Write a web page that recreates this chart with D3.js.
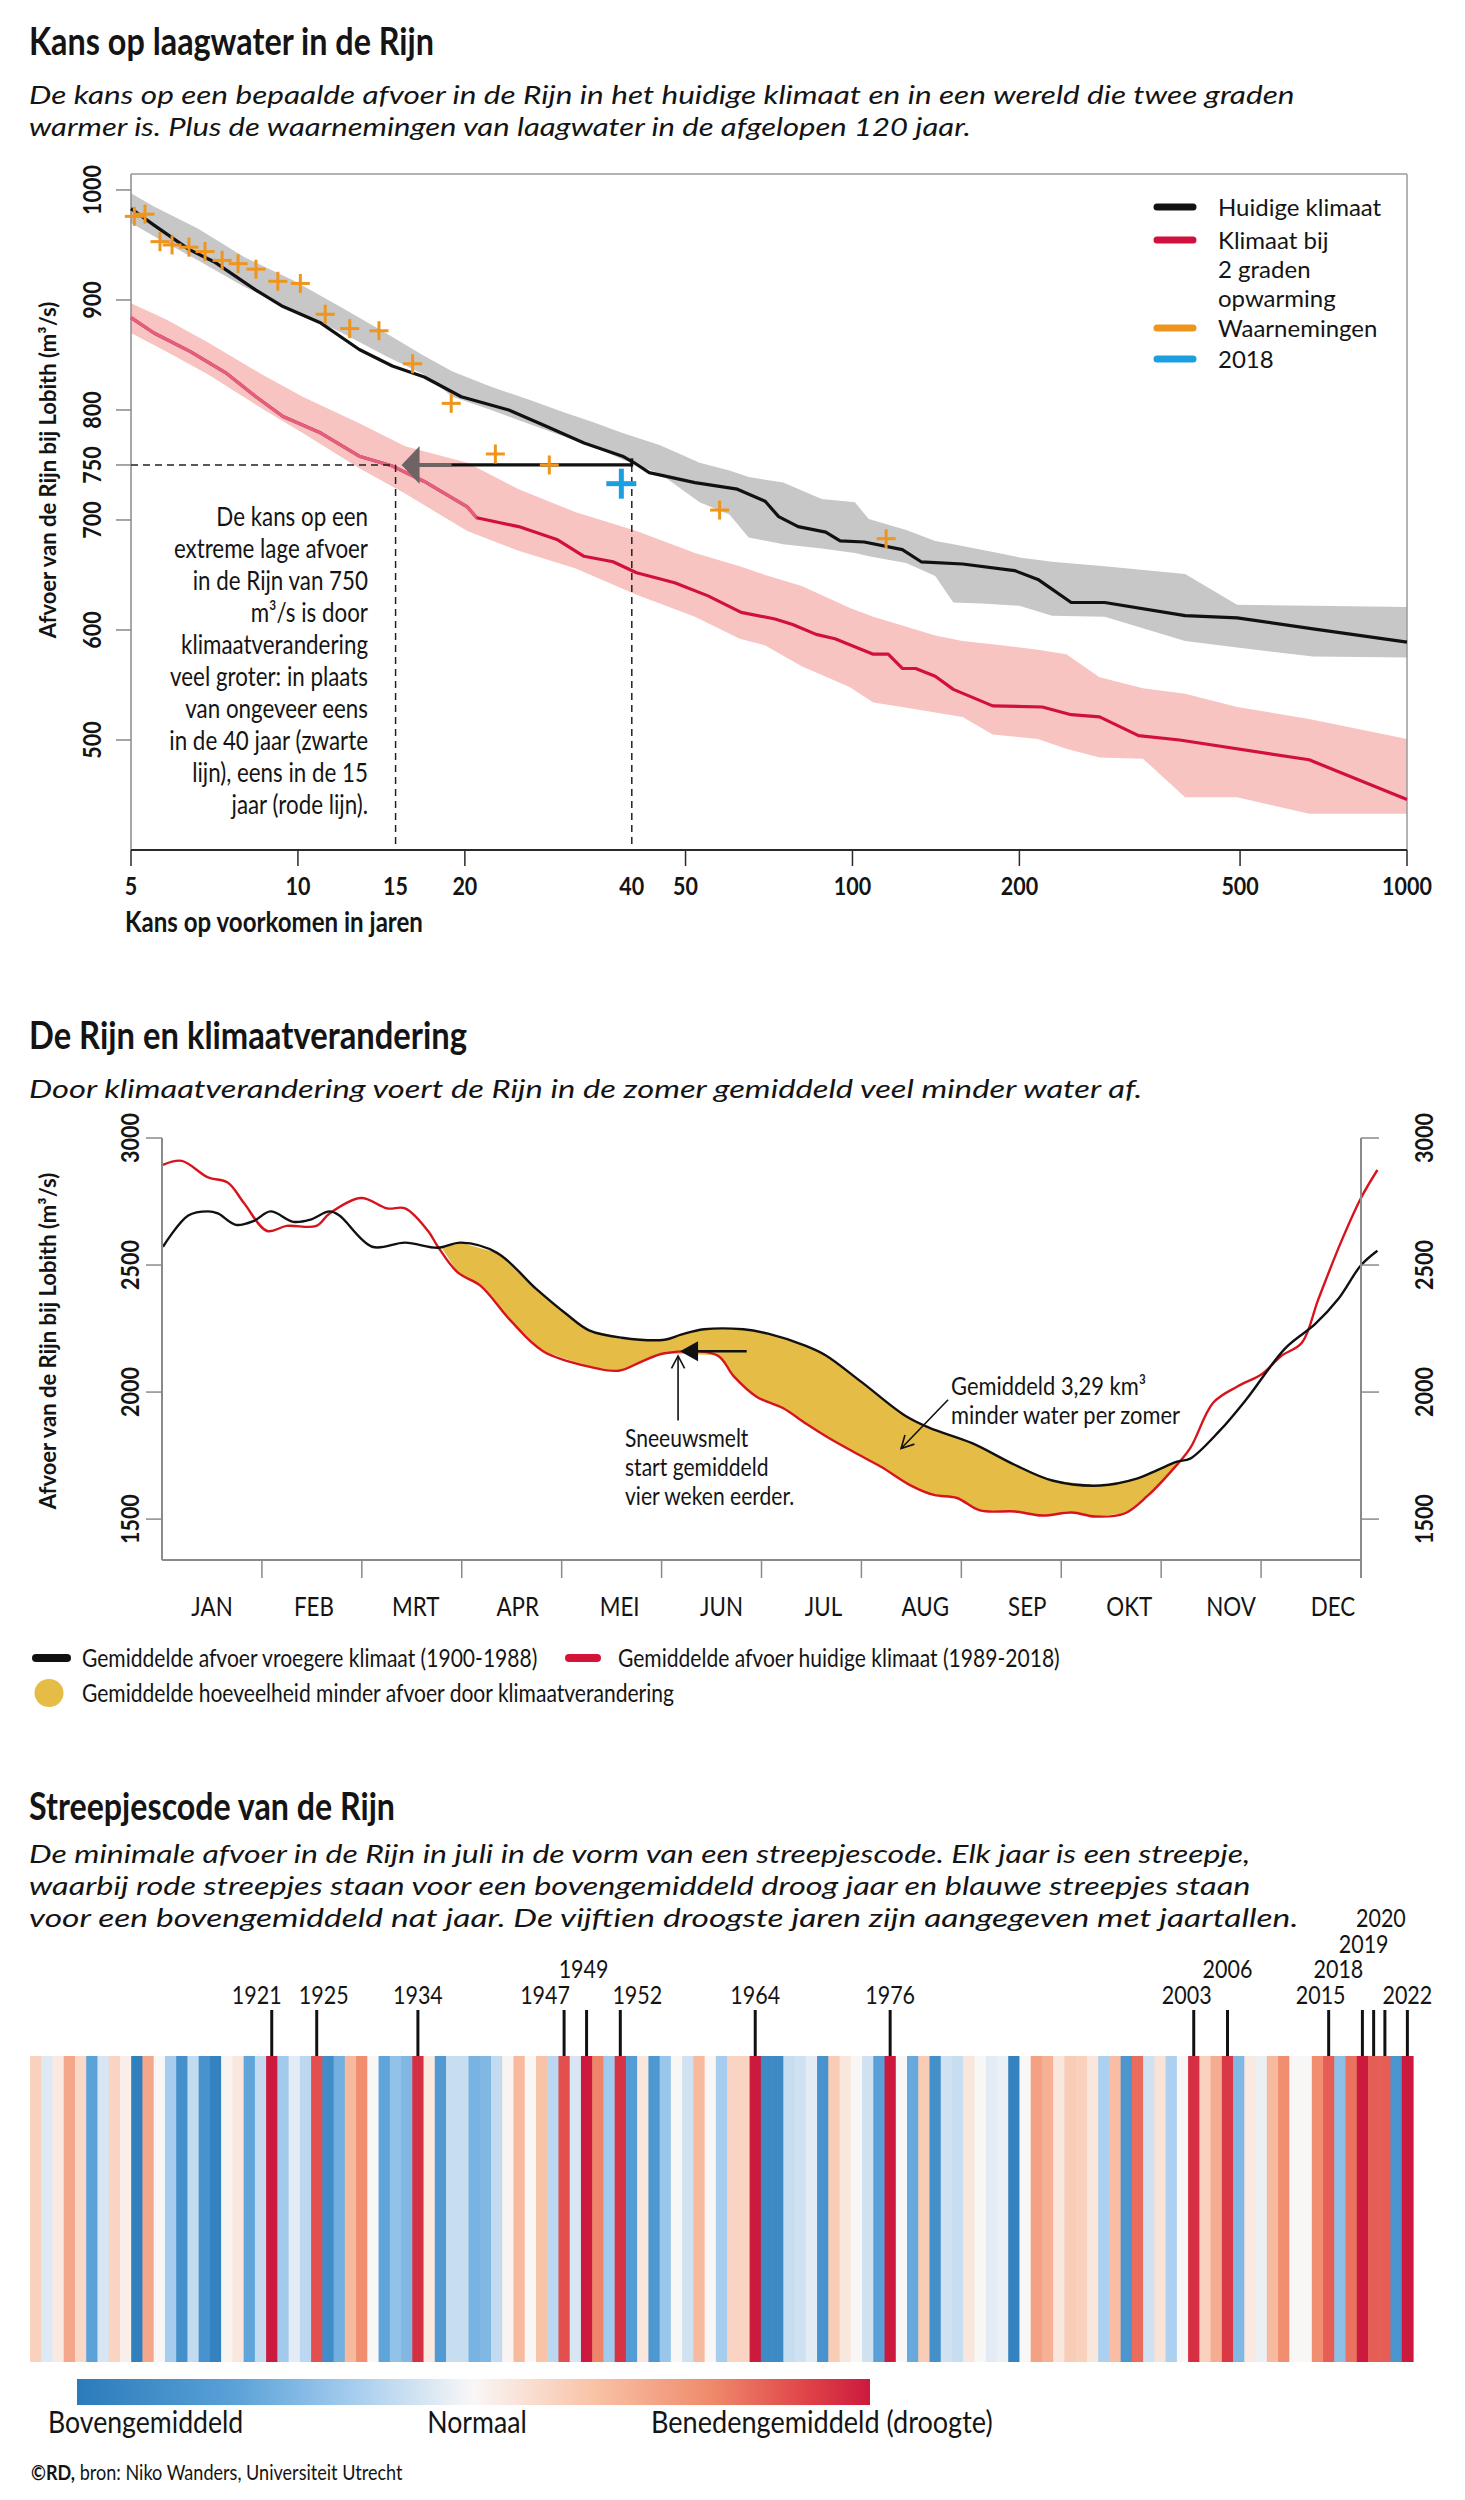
<!DOCTYPE html>
<html lang="nl"><head><meta charset="utf-8">
<script src="https://cdn.jsdelivr.net/npm/d3@7/dist/d3.min.js"></script>
<style>html,body{margin:0;padding:0;background:#fff}svg{display:block}</style>
</head><body>
<svg id="chart" width="1465" height="2500" xmlns="http://www.w3.org/2000/svg"></svg>
<script>
// ================= DATA =================
// --- Chart 1: Kans op laagwater (return period in years vs discharge m3/s)
const returnTickLabels = [5, 10, 15, 20, 40, 50, 100, 200, 500, 1000];
const returnTickMarks  = [5, 10, 20, 50, 100, 200, 500, 1000];
const dischargeTicks   = [500, 600, 700, 750, 800, 900, 1000];

const currentT = [5.0,5.5,6.36,7.1,8.4,9.4,11.0,12.9,14.8,16.9,19.7,24.0,28.1,32.8,38.5,40.4,43,52,62,69.6,73.6,79.8,89.5,95,105,123,133,158,196,216,248,285,398,494,677,1000];
const currentQ = [983,968,946,934,909,894,879,855,840,830,812,800,785,770,758,752,743,734,728,717,703,694,689,681,680,673,662,660,654,646,625,625,613,611,601,589];

const grayBandT  = [5,5.5,6.6,8,9.8,11.9,14.4,16.9,19,22.3,26.2,30.5,34,38.5,45,53,60,65,75,88,101,107,125,141,152,171,200,229,285,398,494,677,1000];
const grayBandHi = [997,985,965,939,918,894,870,849,835,821,809,797,789,779,768,752,745,739,734,719,716,701,691,681,678,673,666,662,658,651,623,622,621];
const grayBandLo = [970,958,936,912,891,871,849,832,812,800,787,775,767,755,742,716,705,684,678,674,670,667,661,649,625,624,622,613,612,590,584,576,575];

const warmT = [5.0,5.5,6.4,7.4,8.4,9.4,11.0,12.9,14.8,16.9,20.2,21.0,25,29.4,32.8,37,40.8,47.8,54.9,63,72.5,78,86,93,109,116,123,130,141,152,179,220,248,279,328,389,666,1000];
const warmQ = [884,870,853,834,812,794,779,758,749,735,712,702,694,682,667,662,652,643,631,616,610,605,596,592,578,578,565,565,558,546,531,530,523,521,504,500,482,446];

const pinkBandT  = [5,5.8,6.9,8.7,10.2,12.9,15.6,20.2,25,31.7,40.8,52,62.6,69.6,81,99,109,123,141,158,179,216,243,279,334,398,494,666,1000];
const pinkBandHi = [897,882,861,831,812,788,767,752,728,707,690,670,658,650,640,620,612,604,595,590,587,582,578,557,547,542,530,519,501];
const pinkBandLo = [870,853,832,800,779,747,724,690,672,656,632,612,592,586,567,548,534,530,525,521,505,501,492,484,483,448,448,433,433];

const obsT = [5.07,5.3,5.64,5.93,6.36,6.8,7.3,7.8,8.4,9.2,10.1,11.2,12.4,14.0,16.1,18.9,22.7,28.4,57.6,115];
const obsQ = [976,978,953,950,948,944,936,933,928,917,915,887,874,872,842,806,760,750,709,683];
const obs2018T = [38.3];
const obs2018Q = [733];

const legend1Labels = [["Huidige klimaat"], ["Klimaat bij", "2 graden", "opwarming"], ["Waarnemingen"], ["2018"]];
const annotation1 = ["De kans op een","extreme lage afvoer","in de Rijn van 750","m³/s is door","klimaatverandering","veel groter: in plaats","van ongeveer eens","in de 40 jaar (zwarte","lijn), eens in de 15","jaar (rode lijn)."];

// --- Chart 2: De Rijn en klimaatverandering (day of year vs discharge)
const months = ["JAN","FEB","MRT","APR","MEI","JUN","JUL","AUG","SEP","OKT","NOV","DEC"];
const flowTicks = [1500, 2000, 2500, 3000];
const earlyDay = [0.3,8,14,17,22.5,28,33,40,45,51,54,64,74,84,91,102,114,123,130,140,153,158,165,177,184.5,196,202,213,226,233.5,246.6,259.7,271,285.6,297,303,309,313,322,330,342,351,358,365,370];
const earlyQ   = [2572,2695,2711,2703,2658,2674,2711,2670,2678,2711,2695,2572,2588,2568,2588,2548,2405,2308,2243,2214,2206,2226,2247,2247,2230,2182,2145,2039,1909,1860,1799,1713,1652,1632,1660,1693,1726,1738,1848,1970,2173,2267,2365,2499,2556];
const recentDay = [0.3,6,14,20,25,32,38,47,51,60.6,68.5,74,81,84,90,97,106,116,130,139,146,153,169,174,181,189,196,203,212,219,228,235,242,249,259.7,268,277,284,293,300,307,313,320,327.5,335,340.6,347,352,359,365,370];
const recentQ   = [2894,2910,2845,2825,2743,2634,2654,2654,2703,2764,2723,2723,2634,2572,2471,2418,2283,2161,2100,2084,2120,2153,2145,2063,1982,1937,1876,1819,1754,1705,1632,1595,1583,1534,1530,1514,1526,1510,1522,1591,1685,1779,1958,2023,2072,2141,2194,2365,2593,2764,2874];
const deficitDays = [85, 310];

// --- Chart 3: Streepjescode (July minimum discharge anomaly; + = drier)
const firstYear = 1900, lastYear = 2022;
const julyMinAnomaly = [
  0.22,-0.1,0.08,0.45,0.18,-0.6,-0.12,0.2,0.05,-0.95,
  0.45,0,-0.3,-0.78,-0.2,-0.75,-0.92,0.02,0.1,-0.58,
  -0.2,1,-0.32,-0.08,-0.22,0.8,-0.82,-0.5,0.35,0.58,
  0,-0.58,-0.38,-0.45,0.92,0.08,-0.68,-0.18,-0.18,-0.48,
  -0.45,-0.2,0.02,0.35,0,0.3,-0.22,0.8,-0.12,1,
  0.62,-0.32,0.9,-0.65,0.1,-0.7,-0.35,0,-0.15,0.35,
  0,-0.3,0.2,0.2,1,-0.85,-0.85,-0.18,-0.15,-0.08,
  -0.75,0.25,0.1,0,-0.15,-0.62,1,0,-0.55,0.25,
  -0.78,-0.15,-0.18,0.1,0,-0.08,-0.05,-0.92,0,0.48,
  0.4,0.1,0.25,0.22,0.1,-0.28,0.33,-0.72,0.7,-0.15,
  0.12,-0.28,0,0.92,0.22,0.42,0.88,-0.45,0.08,-0.05,
  0.35,0.58,0,0,0.58,0.75,-0.4,0.68,1,0.75,
  0.75,-0.72,1];
const dryYears = [1921,1925,1934,1947,1949,1952,1964,1976,2003,2006,2015,2018,2019,2020,2022];
const scaleLabels = ["Bovengemiddeld", "Normaal", "Benedengemiddeld (droogte)"];

// ================= LAYOUT / STYLE =================
const svg = d3.select('#chart');
const defs = svg.append('defs');
function textWidth(family, str) {
  const t = svg.append('text').attr('font-family', family).attr('font-size', 100).text(str);
  const w = t.node().getComputedTextLength(); t.remove(); return w;
}
const probe = 'Huidige klimaat 1921';
const hasNarrow = Math.abs(textWidth("'Liberation Sans Narrow', monospace", probe) - textWidth('monospace', probe)) > 2;
const CF = hasNarrow ? "'Liberation Sans Narrow', 'Liberation Sans', sans-serif" : "Lato, sans-serif";
const SX = hasNarrow ? 1 : 0.86;
const NF = "Lato, 'Noto Sans', sans-serif";
const IF = "Lato, 'Noto Sans', sans-serif";

function T(g, x, y, str, o = {}) {
  const cond = o.cond !== false;
  let sx = o.sx !== undefined ? o.sx : (cond ? SX : 1);
  const base = `translate(${x},${y})` + (o.rotate ? ` rotate(${o.rotate})` : '');
  const t = g.append('text').attr('transform', base + (sx !== 1 ? ` scale(${sx},1)` : ''))
    .attr('font-family', o.family || (cond ? CF : NF))
    .attr('font-size', o.size || 24)
    .attr('font-weight', o.weight || 400)
    .attr('text-anchor', o.anchor || 'start')
    .attr('fill', o.fill || '#141414');
  if (o.italic) t.attr('font-style', 'italic');
  if (o.dy) t.attr('dy', o.dy);
  if (str !== null) t.text(str);
  if (o.fit) {
    const w = t.node().getComputedTextLength() * sx;
    let fs = (o.size || 24) * o.fit / w;
    if (o.maxSize && fs > o.maxSize) {
      t.attr('font-size', o.maxSize);
      sx = o.fit / t.node().getComputedTextLength();
      t.attr('transform', base + ` scale(${sx},1)`);
    } else {
      t.attr('font-size', fs);
    }
  }
  return t;
}
function line(g, x1, y1, x2, y2, stroke, w, dash) {
  const l = g.append('line').attr('x1', x1).attr('y1', y1).attr('x2', x2).attr('y2', y2)
    .attr('stroke', stroke).attr('stroke-width', w);
  if (dash) l.attr('stroke-dasharray', dash);
  return l;
}

// ---------- Titles ----------
const gt = svg.append('g');
const sub = {cond: false, family: IF, italic: true, size: 26, maxSize: 26};
T(gt, 29, 55, "Kans op laagwater in de Rijn", {size: 33, weight: 700, fit: 405});
T(gt, 29, 104, "De kans op een bepaalde afvoer in de Rijn in het huidige klimaat en in een wereld die twee graden", {...sub, fit: 1266});
T(gt, 29, 136, "warmer is. Plus de waarnemingen van laagwater in de afgelopen 120 jaar.", {...sub, fit: 942});
T(gt, 29, 1049, "De Rijn en klimaatverandering", {size: 33, weight: 700, fit: 438});
T(gt, 29, 1098, "Door klimaatverandering voert de Rijn in de zomer gemiddeld veel minder water af.", {...sub, fit: 1114});
T(gt, 29, 1820, "Streepjescode van de Rijn", {size: 33, weight: 700, fit: 366});
T(gt, 29, 1863, "De minimale afvoer in de Rijn in juli in de vorm van een streepjescode. Elk jaar is een streepje,", {...sub, fit: 1222});
T(gt, 29, 1895, "waarbij rode streepjes staan voor een bovengemiddeld droog jaar en blauwe streepjes staan", {...sub, fit: 1222});
T(gt, 29, 1927, "voor een bovengemiddeld nat jaar. De vijftien droogste jaren zijn aangegeven met jaartallen.", {...sub, fit: 1270});

// ================= CHART 1 =================
const g1 = svg.append('g');
const x1 = d3.scaleLog().domain([5, 1000]).range([131, 1407]);
const y1 = d3.scaleLinear().domain([400, 1014.5]).range([850, 174]);
const zip3 = (a, b, c) => a.map((v, i) => [v, b[i], c[i]]);
const zip2 = (a, b) => a.map((v, i) => [v, b[i]]);
const band1 = d3.area().x(d => x1(d[0])).y0(d => y1(d[2])).y1(d => y1(d[1]));
const line1 = d3.line().x(d => x1(d[0])).y(d => y1(d[1]));

g1.append('path').attr('d', band1(zip3(pinkBandT, pinkBandHi, pinkBandLo))).attr('fill', '#f7c4c2');
g1.append('path').attr('d', band1(zip3(grayBandT, grayBandHi, grayBandLo))).attr('fill', '#c7c7c7');

const [xa, xb] = x1.range();
line(g1, xa, 174, xb, 174, '#9a9a9a', 1.5);
line(g1, xb, 174, xb, y1(400), '#9a9a9a', 1.5);
line(g1, xa, 174, xa, y1(400), '#8a8a8a', 1.5);

const warmPath = line1(zip2(warmT, warmQ));
g1.append('path').attr('d', warmPath).attr('fill', 'none').attr('stroke', '#d2103c').attr('stroke-width', 3.2).attr('stroke-linejoin', 'round');
defs.append('clipPath').attr('id', 'clipLeft').append('rect')
  .attr('x', 0).attr('y', 0).attr('width', x1(21)).attr('height', 900);
g1.append('path').attr('d', warmPath).attr('fill', 'none').attr('stroke', '#e2607d').attr('stroke-width', 3.2)
  .attr('clip-path', 'url(#clipLeft)');
g1.append('path').attr('d', line1(zip2(currentT, currentQ))).attr('fill', 'none').attr('stroke', '#111').attr('stroke-width', 3.2).attr('stroke-linejoin', 'round');

// dashed guides at 750 m3/s
line(g1, xa, y1(750), x1(15), y1(750), '#222', 1.5, '7,5');
line(g1, x1(15), y1(750), x1(15), y1(400), '#222', 1.5, '7,5');
line(g1, x1(40), y1(750), x1(40), y1(400), '#222', 1.5, '7,5');
// arrow from 40 to 15 years
line(g1, x1(40), y1(750), x1(15) + 54, y1(750), '#111', 3.2);
line(g1, x1(40), y1(750) + 1.5, x1(40), y1(756), '#111', 3);
line(g1, x1(15) + 56, y1(750), x1(15) + 20, y1(750), '#6e6464', 4);
g1.append('path').attr('fill', '#6e6464')
  .attr('d', `M${x1(15) + 6},${y1(750)} L${x1(15) + 24},${y1(750) - 19} L${x1(15) + 24},${y1(750) + 19} Z`);

// observations
g1.selectAll('g.obs').data(zip2(obsT, obsQ)).join('g').attr('class', 'obs').each(function (d) {
  const g = d3.select(this), cx = x1(d[0]), cy = y1(d[1]);
  line(g, cx - 9.5, cy, cx + 9.5, cy, '#ef951d', 3);
  line(g, cx, cy - 9.5, cx, cy + 9.5, '#ef951d', 3);
});
zip2(obs2018T, obs2018Q).forEach(d => {
  const cx = x1(d[0]), cy = y1(d[1]);
  line(g1, cx - 15, cy, cx + 15, cy, '#1b9fe0', 5);
  line(g1, cx, cy - 15, cx, cy + 15, '#1b9fe0', 5);
});

// ticks
dischargeTicks.forEach(v => {
  line(g1, xa - 15, y1(v), xa, y1(v), '#888', 1.5);
  T(g1, 101, y1(v), String(v), {rotate: -90, anchor: 'middle', size: 25, weight: 700});
});
line(g1, xa, y1(400), xb, y1(400), '#2a2a2a', 2);
returnTickMarks.forEach(v => line(g1, x1(v), y1(400), x1(v), y1(400) + 16, '#2a2a2a', 1.5));
returnTickLabels.forEach(v => T(g1, x1(v), 895, String(v), {anchor: 'middle', size: 25, weight: 700}));
T(g1, 125, 932, "Kans op voorkomen in jaren", {size: 28, weight: 700});
T(g1, 56, 470, "Afvoer van de Rijn bij Lobith (m³/s)", {cond: false, rotate: -90, anchor: 'middle', size: 22, weight: 700});

// legend
const legColors1 = ['#111', '#d2103c', '#ef951d', '#1b9fe0'];
const legRowY = [[207], [240, 269, 298], [328], [359]];
legend1Labels.forEach((rows, i) => {
  g1.append('line').attr('x1', 1157).attr('x2', 1193).attr('y1', legRowY[i][0]).attr('y2', legRowY[i][0])
    .attr('stroke', legColors1[i]).attr('stroke-width', 7).attr('stroke-linecap', 'round');
  rows.forEach((r, j) => T(g1, 1218, legRowY[i][j], r, {size: 24, sx: 1, dy: '0.36em'}));
});

annotation1.forEach((s, i) => T(g1, 368, 517 + i * 32, s, {anchor: 'end', size: 26, dy: '0.36em'}));

// ================= CHART 2 =================
const g2 = svg.append('g');
const x2 = d3.scaleLinear().domain([0, 365]).range([162, 1361]);
const y2 = d3.scaleLinear().domain([1339, 3000]).range([1560, 1138]);
const early = zip2(earlyDay, earlyQ), recent = zip2(recentDay, recentQ);
function interpAt(pts, d) {
  for (let i = 1; i < pts.length; i++) if (pts[i][0] >= d) {
    const a = pts[i - 1], b = pts[i], t = (d - a[0]) / (b[0] - a[0]);
    return a[1] + t * (b[1] - a[1]);
  }
  return pts[pts.length - 1][1];
}
const [fA, fB] = deficitDays;
const polyPts = [[fA, interpAt(early, fA)], ...early.filter(p => p[0] > fA && p[0] < fB), [fB, interpAt(early, fB)],
  ...recent.filter(p => p[0] > fA && p[0] < fB).reverse()];
g2.append('path').attr('d', d3.line().x(d => x2(d[0])).y(d => y2(d[1])).curve(d3.curveLinearClosed)(polyPts))
  .attr('fill', '#e5bd46');
const line2 = d3.line().x(d => x2(d[0])).y(d => y2(d[1])).curve(d3.curveCatmullRom.alpha(0.5));
g2.append('path').attr('d', line2(recent)).attr('fill', 'none').attr('stroke', '#d7141e').attr('stroke-width', 2.4);
g2.append('path').attr('d', line2(early)).attr('fill', 'none').attr('stroke', '#111').attr('stroke-width', 2.4);

// axes
const [cx0, cx1] = x2.range();
const yBase = y2(1339);
line(g2, cx0, y2(3000), cx0, yBase, '#8a8a8a', 2);
line(g2, cx1, y2(3000), cx1, yBase + 18, '#8a8a8a', 2);
line(g2, cx0, yBase, cx1, yBase, '#8a8a8a', 2);
flowTicks.forEach(v => {
  line(g2, cx0 - 16, y2(v), cx0, y2(v), '#8a8a8a', 1.5);
  line(g2, cx1, y2(v), cx1 + 18, y2(v), '#8a8a8a', 1.5);
  T(g2, 139, y2(v), String(v), {rotate: -90, anchor: 'middle', size: 25, weight: 700});
  T(g2, 1433, y2(v), String(v), {rotate: -90, anchor: 'middle', size: 25, weight: 700});
});
d3.range(1, 12).forEach(i => line(g2, x2(i * 365 / 12), yBase, x2(i * 365 / 12), yBase + 18, '#8a8a8a', 1.5));
const mLab = d3.scalePoint().domain(months).range([212, 1333]);
months.forEach(m => T(g2, mLab(m), 1607, m, {anchor: 'middle', size: 26, dy: '0.36em'}));
T(g2, 56, 1341, "Afvoer van de Rijn bij Lobith (m³/s)", {cond: false, rotate: -90, anchor: 'middle', size: 22, weight: 700});

// annotation: snowmelt arrow
const snowQ = 2161;
line(g2, x2(178), y2(snowQ), x2(158) + 16, y2(snowQ), '#111', 2.5);
g2.append('path').attr('fill', '#111')
  .attr('d', `M${x2(157.7)},${y2(snowQ)} L${x2(157.7) + 18},${y2(snowQ) - 10} L${x2(157.7) + 18},${y2(snowQ) + 10} Z`);
function openHead(g, x, y, ang) {
  const L = 14, a = 28 * Math.PI / 180;
  const p1 = [x - L * Math.cos(ang - a), y - L * Math.sin(ang - a)];
  const p2 = [x - L * Math.cos(ang + a), y - L * Math.sin(ang + a)];
  g.append('path').attr('d', `M${p1[0]},${p1[1]} L${x},${y} L${p2[0]},${p2[1]}`)
    .attr('fill', 'none').attr('stroke', '#111').attr('stroke-width', 1.6);
}
const vx = x2(157.1);
line(g2, vx, y2(1888), vx, y2(2142), '#111', 1.6);
openHead(g2, vx, y2(2142), -Math.PI / 2);
["Sneeuwsmelt", "start gemiddeld", "vier weken eerder."].forEach((s, i) => T(g2, 625, 1438 + i * 29, s, {size: 24.5, dy: '0.36em'}));
const ax0 = [x2(239.3), y2(1970)], ax1 = [x2(225), y2(1778)];
line(g2, ax0[0], ax0[1], ax1[0], ax1[1], '#111', 1.6);
openHead(g2, ax1[0], ax1[1], Math.atan2(ax1[1] - ax0[1], ax1[0] - ax0[0]));
T(g2, 951, 1386, "Gemiddeld 3,29 km³", {size: 25.5, dy: '0.36em'});
T(g2, 951, 1415, "minder water per zomer", {size: 25.5, dy: '0.36em'});

// legend chart 2
line(g2, 36, 1658, 67, 1658, '#111', 8).attr('stroke-linecap', 'round');
T(g2, 82, 1658, "Gemiddelde afvoer vroegere klimaat (1900-1988)", {size: 24.5, dy: '0.36em'});
line(g2, 569, 1658, 597, 1658, '#d41339', 8).attr('stroke-linecap', 'round');
T(g2, 618, 1658, "Gemiddelde afvoer huidige klimaat (1989-2018)", {size: 24.5, dy: '0.36em'});
g2.append('ellipse').attr('cx', 49).attr('cy', 1693).attr('rx', 14.5).attr('ry', 14).attr('fill', '#e5bd46');
T(g2, 82, 1693, "Gemiddelde hoeveelheid minder afvoer door klimaatverandering", {size: 24.5, dy: '0.36em'});

// ================= CHART 3 =================
const g3 = svg.append('g');
const years = d3.range(firstYear, lastYear + 1);
const x3 = d3.scaleBand().domain(years).range([30, 1413]).padding(0);
const colDomain = [-1, -0.6, -0.3, 0, 0.3, 0.6, 0.85, 1];
const colRange = ['#2b7bba', '#5aa2d8', '#a6cdee', '#f9f7f6', '#f9c3a8', '#ef8a6b', '#df4047', '#cb1a3d'];
const color = d3.scaleLinear().domain(colDomain).range(colRange).interpolate(d3.interpolateRgb);
const stripeTop = 2056, stripeBottom = 2362;
g3.selectAll('rect.stripe').data(years).join('rect').attr('class', 'stripe')
  .attr('x', d => x3(d)).attr('y', stripeTop).attr('width', x3.bandwidth() + 0.6).attr('height', stripeBottom - stripeTop)
  .attr('fill', (d, i) => color(julyMinAnomaly[i]));

const labelLayout = {1921: [-15, 0], 1925: [7, 0], 1934: [0, 0], 1947: [-19, 0], 1949: [-3, 1], 1952: [17, 0], 1964: [0, 0],
  1976: [0, 0], 2003: [-7, 0], 2006: [0, 1], 2015: [-8, 0], 2018: [-24, 1], 2019: [-10, 2], 2020: [-4, 3], 2022: [0, 0]};
const rowBase = [2004, 1978, 1953, 1927];
dryYears.forEach(yr => {
  const cx = x3(yr) + x3.bandwidth() / 2;
  line(g3, cx, 2010, cx, stripeTop, '#111', 3);
  const [dx, row] = labelLayout[yr];
  T(g3, cx + dx, rowBase[row], String(yr), {anchor: 'middle', size: 25});
});

const grad = defs.append('linearGradient').attr('id', 'rdbu').attr('x1', 0).attr('x2', 1).attr('y1', 0).attr('y2', 0);
colDomain.forEach((v, i) => grad.append('stop').attr('offset', (v + 1) / 2).attr('stop-color', colRange[i]));
g3.append('rect').attr('x', 77).attr('y', 2379).attr('width', 793).attr('height', 26).attr('fill', 'url(#rdbu)');
T(g3, 48, 2433, scaleLabels[0], {size: 31});
T(g3, 477, 2433, scaleLabels[1], {size: 31, anchor: 'middle'});
T(g3, 651, 2433, scaleLabels[2], {size: 31.5});

const cr = T(g3, 31, 2480, null, {size: 21});
cr.append('tspan').attr('font-weight', 700).text('©RD,');
cr.append('tspan').text(' bron: Niko Wanders, Universiteit Utrecht');
</script>
</body></html>
